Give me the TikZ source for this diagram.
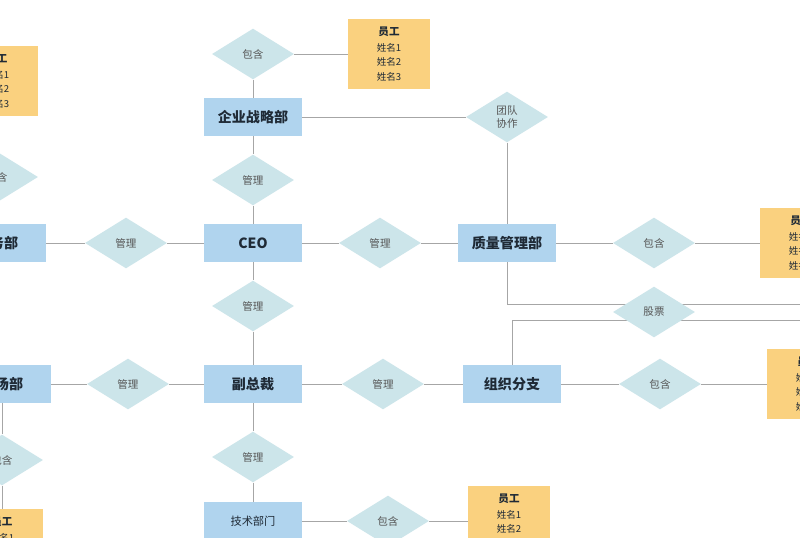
\documentclass[tikz,border=0pt]{standalone}
\usepackage{fontspec}
\setmainfont{Noto Sans CJK SC}
\usepackage{tikz}
\usetikzlibrary{shapes,calc}
\definecolor{deptblue}{HTML}{B0D4EE}
\definecolor{relcyan}{HTML}{CCE5EA}
\definecolor{staffyellow}{HTML}{FAD17F}
\definecolor{linkgray}{HTML}{A6A6A6}
\definecolor{labeldark}{HTML}{1F2A36}
\definecolor{relgray}{HTML}{555555}
\pgfdeclarelayer{paper}
\pgfdeclarelayer{under}
\pgfsetlayers{paper,under,main}
\tikzset{
    dept/.style = {rectangle, fill=deptblue, text=labeldark,
        minimum height=0.95cm,
        minimum width=2.45cm, align=center,
        font=\fontsize{10}{12}\selectfont\bfseries},
    subdept/.style = {dept, font=\fontsize{8}{10}\selectfont},
    rel/.style = {diamond, fill=relcyan, text=relgray, inner sep=0pt,
        minimum width=2.05cm, minimum height=1.27cm, aspect=1.6,
        align=center, font=\fontsize{7.5}{9}\selectfont},
    staff/.style = {rectangle, fill=staffyellow, text=labeldark,
        minimum width=2.05cm, minimum height=1.75cm, align=center,
        font=\fontsize{6.8}{10.3}\selectfont},
    link/.style = {draw=linkgray, line width=0.7pt}
}
\newcommand{\staffnames}{{\bfseries\fontsize{7.5}{10.3}\selectfont 员工}\\[1pt]姓名1\\姓名2\\姓名3}

\begin{document}
\begin{tikzpicture}[auto, node distance=3.175cm]
    \begin{pgfonlayer}{paper}
    \fill [white] (-6.325,6.075) rectangle (13.675,-7.375);
    \end{pgfonlayer}
    \useasboundingbox (-6.325,6.075) rectangle (13.675,-7.375);
    \clip (-6.325,6.075) rectangle (13.675,-7.375);

    \node [dept] (ceo) {CEO};
    \node [rel, above of=ceo, node distance=1.575cm] (mgup) {管理};
    \node [dept, above of=ceo, node distance=3.15cm] (strat) {企业战略部};
    \node [rel, above of=strat, node distance=1.575cm] (incstrat) {包含};
    \node [staff, right of=incstrat, node distance=3.4cm] (empstrat) {\staffnames};
    \node [rel, right of=strat, node distance=6.35cm] (team) {团队\\协作};

    \node [rel, right of=ceo] (mgr) {管理};
    \node [dept, right of=mgr] (qual) {质量管理部};
    \node [rel, right of=qual, node distance=3.675cm] (incqual) {包含};
    \node [staff, right of=incqual, node distance=3.675cm] (empqual) {\staffnames};
    \node [rel, below of=incqual, node distance=1.725cm] (stock) {股票};
    \coordinate (stockA) at ($(stock)+(6,0.2)$);
    \coordinate (stockB) at ($(stock)+(6,-0.2)$);

    \node [rel, left of=ceo] (mgl) {管理};
    \node [dept, left of=mgl, node distance=3.225cm] (fin) {财务部};
    \node [rel, above of=fin, node distance=1.65cm] (incfin) {包含};
    \node [staff, above of=incfin, node distance=2.4cm] (empfin) {\staffnames};

    \node [rel, below of=ceo, node distance=1.575cm] (mgdown) {管理};
    \node [dept, below of=ceo, node distance=3.525cm] (vp) {副总裁};
    \node [rel, left of=vp, node distance=3.125cm] (mgvl) {管理};
    \node [dept, left of=mgvl, node distance=3.15cm] (mkt) {市场部};
    \node [rel, below of=mkt, node distance=1.9cm] (incmkt) {包含};
    \node [staff, below of=incmkt, node distance=2.1cm] (empmkt) {\staffnames};

    \node [rel, right of=vp, node distance=3.25cm] (mgvr) {管理};
    \node [dept, right of=mgvr, node distance=3.225cm] (org) {组织分支};
    \node [rel, right of=org, node distance=3.7cm] (incorg) {包含};
    \node [staff, right of=incorg, node distance=3.7cm] (emporg) {\staffnames};

    \node [rel, below of=vp, node distance=1.825cm] (mgtech) {管理};
    \node [subdept, below of=mgtech, node distance=1.6cm] (tech) {技术部门};
    \node [rel, right of=tech, node distance=3.375cm] (inctech) {包含};
    \node [staff, right of=inctech, node distance=3.025cm] (emptech) {\staffnames};

    \draw [link] (incstrat) -- (strat);
    \draw [link] (incstrat) -- (empstrat);
    \draw [link] (strat) -- (mgup) -- (ceo);
    \draw [link] (strat) -- (team) -- (qual);
    \draw [link] (ceo) -- (mgr) -- (qual);
    \draw [link] (qual) -- (incqual) -- (empqual);
    \draw [link] (fin) -- (mgl) -- (ceo);
    \draw [link] (empfin) -- (incfin) -- (fin);
    \draw [link] (ceo) -- (mgdown) -- (vp);
    \draw [link] (mkt) -- (mgvl) -- (vp);
    \draw [link] (mkt) -- (incmkt) -- (empmkt);
    \draw [link] (vp) -- (mgvr) -- (org);
    \draw [link] (org) -- (incorg) -- (emporg);
    \draw [link] (vp) -- (mgtech) -- (tech);
    \draw [link] (tech) -- (inctech) -- (emptech);
    \begin{pgfonlayer}{under}
    \draw [link] (qual.south) |- (stockA);
    \draw [link] (org.north) |- (stockB);
    \end{pgfonlayer}
\end{tikzpicture}
\end{document}
